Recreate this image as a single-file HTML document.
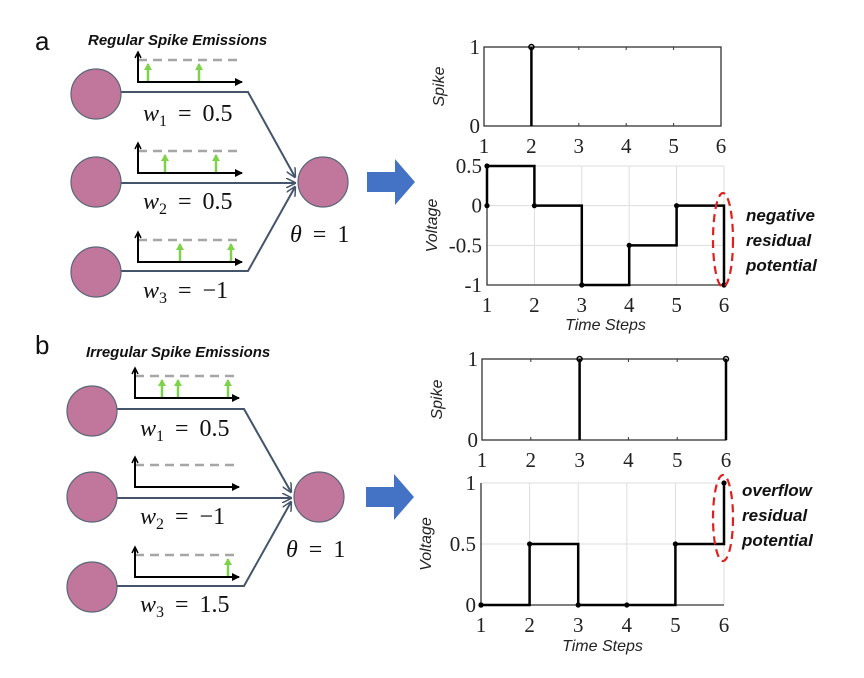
<!DOCTYPE html>
<html><head><meta charset="utf-8"><style>
body{margin:0;background:#fff}
svg{display:block}
.tk{font-family:"Liberation Serif",serif;font-size:21px;fill:#222}
.ax{font-family:"Liberation Sans",sans-serif;font-style:italic;font-size:16px;fill:#222}
.ann{font-family:"Liberation Sans",sans-serif;font-style:italic;font-weight:bold;font-size:17px;fill:#111}
.w{font-family:"Liberation Serif",serif;font-size:24px;fill:#111;word-spacing:5px}
</style></head><body>
<svg id="fig" width="864" height="678" viewBox="0 0 864 678">
<defs>
<marker id="ah" markerWidth="8" markerHeight="8" refX="7" refY="4" orient="auto" markerUnits="userSpaceOnUse"><path d="M0,0 L8,4 L0,8 z" fill="#000"/></marker>
<marker id="ga" markerWidth="8" markerHeight="8" refX="4" refY="1" orient="0" markerUnits="userSpaceOnUse"><path d="M0,7 L4,0 L8,7 z" fill="#7ed24a"/></marker>
<marker id="na" markerWidth="10" markerHeight="10" refX="9" refY="5" orient="auto" markerUnits="userSpaceOnUse"><path d="M0,0 L10,5 L0,10" fill="none" stroke="#44546a" stroke-width="1.5"/></marker>
</defs>
<g id="left"></g>
<g id="charts"></g>
</svg>
<script>
// ---- chart data ----
const xTicks = [1,2,3,4,5,6];
const spikeA = [0,1,0,0,0,0];
const spikeB = [0,0,1,0,0,1];
const voltTicksA = [0.5,0,-0.5,-1];
const voltTickLabelsA = ["0.5","0","-0.5","-1"];
const voltLevelsA = [0.5,0,-1,-0.5,0];
const voltStartA = 0, voltEndA = -1;
const voltTicksB = [1,0.5,0];
const voltTickLabelsB = ["1","0.5","0"];
const voltLevelsB = [0,0.5,0,0,0.5];
const voltStartB = 0, voltEndB = 1;

const NS="http://www.w3.org/2000/svg";
function mk(p,tag,attrs,txt){const e=document.createElementNS(NS,tag);for(const k in attrs)e.setAttribute(k,attrs[k]);if(txt!==undefined)e.textContent=txt;p.appendChild(e);return e;}
const charts=document.getElementById('charts');
const left=document.getElementById('left');

function spikeChart(g,x0,x1,y1,y0,data){
  const sx=t=>x0+(t-1)*(x1-x0)/5, sy=v=>y0+(y1-y0)*v;
  const box=mk(g,'rect',{x:x0,y:y1,width:x1-x0,height:y0-y1,fill:'none',stroke:'#333','stroke-width':1.3});
  
  
  xTicks.forEach(t=>{
    mk(g,'line',{x1:sx(t),x2:sx(t),y1:y0,y2:y0-3,stroke:'#333'});
    mk(g,'line',{x1:sx(t),x2:sx(t),y1:y1,y2:y1+3,stroke:'#333'});
    const l=mk(g,'text',{x:sx(t),y:y0+27,'text-anchor':'middle',class:'tk'},t);
    
    
  });
  [[0,'0'],[1,'1']].forEach(([v,s])=>{const l=mk(g,'text',{x:x0-4,y:sy(v)+7,'text-anchor':'end',class:'tk'},s);
    
    });
  data.forEach((v,i)=>{ if(v>0){
    const s=mk(g,'line',{x1:sx(xTicks[i]),x2:sx(xTicks[i]),y1:y0,y2:sy(v),stroke:'#000','stroke-width':2.5});
    
    
    mk(g,'circle',{cx:sx(xTicks[i]),cy:sy(v),r:2.5,fill:'none',stroke:'#000','stroke-width':1.5});
  }});
  const t=mk(g,'text',{class:'ax',transform:`translate(${x0-40},${(y0+y1)/2}) rotate(-90)`,'text-anchor':'middle'},'Spike');
  
  
}
function voltChart(g,x0,x1,yTop,yBot,vTop,vBot,ticks,labels,levels,vs,ve,tsY){
  const sx=t=>x0+(t-1)*(x1-x0)/5, sy=v=>yTop+(vTop-v)*(yBot-yTop)/(vTop-vBot);
  xTicks.forEach(t=>mk(g,'line',{x1:sx(t),x2:sx(t),y1:yTop,y2:yBot,stroke:'#ddd'}));
  ticks.forEach(v=>mk(g,'line',{x1:x0,x2:x1,y1:sy(v),y2:sy(v),stroke:'#ddd'}));
  mk(g,'path',{d:`M${x0},${yTop}V${yBot}H${x1}`,fill:'none',stroke:'#333','stroke-width':1.3});
  xTicks.forEach(t=>{const l=mk(g,'text',{x:sx(t),y:yBot+27,'text-anchor':'middle',class:'tk'},t);
    
    });
  ticks.forEach((v,i)=>{const l=mk(g,'text',{x:x0-5,y:sy(v)+7,'text-anchor':'end',class:'tk'},labels[i]);
    
    });
  let d=`M${sx(1)},${sy(vs)}`;
  levels.forEach((v,i)=>{d+=`V${sy(v)}H${sx(i+2)}`;});
  d+=`V${sy(ve)}`;
  const p=mk(g,'path',{d:d,fill:'none',stroke:'#000','stroke-width':2.5});
  
  
  const dots=[[1,vs]];levels.forEach((v,i)=>dots.push([i+1,v]));dots.push([6,ve]);
  dots.forEach(([t,v])=>{const c=mk(g,'circle',{cx:sx(t),cy:sy(v),r:2.6,fill:'#000'});
    
    });
  const yt=mk(g,'text',{class:'ax',transform:`translate(${x0-50},${(yTop+yBot)/2}) rotate(-90)`,'text-anchor':'middle'},'Voltage');
  
  
  const xt=mk(g,'text',{class:'ax',x:(x0+x1)/2,y:tsY,'text-anchor':'middle'},'Time Steps');
  
  
}
const ga=mk(charts,'g',{});


spikeChart(ga,484,721,47,126,spikeA);
voltChart(ga,487,724,166,285,0.5,-1,voltTicksA,voltTickLabelsA,voltLevelsA,voltStartA,voltEndA,330);
const gb=mk(charts,'g',{});


spikeChart(gb,482,726,359,440,spikeB);
voltChart(gb,481,724,483,605,1,0,voltTicksB,voltTickLabelsB,voltLevelsB,voltStartB,voltEndB,651);

// ellipses + annotations
[[723,240,47,'negative',221,746],[723,518,43,'overflow',496,742]].forEach(([cx,cy,ry,w,ty,x])=>{
  const e=mk(charts,'ellipse',{cx:cx,cy:cy,rx:10,ry:ry,fill:'none',stroke:'#e02020','stroke-width':2.2,'stroke-dasharray':'8 5'});
  
  
  [w,'residual','potential'].forEach((s,i)=>{const t=mk(charts,'text',{x:x,y:ty+i*25,class:'ann'},s);
    
    });
});

// ---- left diagrams ----
function net(g,o){
  const lab=mk(g,'text',{x:o.lx,y:o.ly,style:'font-family:"Liberation Sans",sans-serif;font-size:26px;fill:#111'},o.letter);
  
  
  const tt=mk(g,'text',{x:o.tx,y:o.ty,class:'ann',style:'font-size:15px'},o.title);
  
  
  const [ox,oy]=o.out;
  o.ins.forEach((c,i)=>{
    const [cx,cy]=c;
    let d;
    if(i===0)d=`M${cx+25},${cy-2}H${o.bx}L${ox-28},${oy-5}`;
    else if(i===1)d=`M${cx+25},${cy+1}H${ox-28}`;
    else d=`M${cx+25},${cy-1}H${o.bx}L${ox-28},${oy+5}`;
    const ln=mk(g,'path',{d:d,fill:'none',stroke:'#44546a','stroke-width':2,'marker-end':'url(#na)'});
    
    
    const n=mk(g,'circle',{cx:cx,cy:cy,r:25,fill:'#c0779b',stroke:'#5a6678','stroke-width':1.2});
    
    
    const m=o.mini[i];
    mk(g,'line',{x1:m.x,x2:m.x+105,y1:m.y-22,y2:m.y-22,stroke:'#a6a6a6','stroke-width':2.5,'stroke-dasharray':'9 6'});
    mk(g,'path',{d:`M${m.x},${m.y-28}V${m.y}H${m.x+104}`,fill:'none',stroke:'#000','stroke-width':2,'marker-end':'url(#ah)'});
    mk(g,'path',{d:`M${m.x-3},${m.y-24}L${m.x},${m.y-30}L${m.x+3},${m.y-24}`,fill:'none',stroke:'#000','stroke-width':1.5});
    m.s.forEach(sx=>{const a=mk(g,'line',{x1:sx,x2:sx,y1:m.y-1,y2:m.y-18,stroke:'#7ed24a','stroke-width':2.5,'marker-end':'url(#ga)'});
      
      });
    const w=mk(g,'text',{x:m.x+5,y:o.wy[i],class:'w'});
    
    
    w.innerHTML=`<tspan font-style="italic">w</tspan><tspan font-size="16" dy="5">${i+1}</tspan><tspan dy="-5"> = ${o.w[i]}</tspan>`;
  });
  const on=mk(g,'circle',{cx:ox,cy:oy,r:25,fill:'#c0779b',stroke:'#5a6678','stroke-width':1.2});
  
  
  const th=mk(g,'text',{x:ox-33,y:oy+60,class:'w'});
  
  
  th.innerHTML='<tspan font-style="italic">θ</tspan> = 1';
  const ar=mk(g,'path',{d:`M${o.ax},${oy-10}H${o.ax+28}V${oy-23}L${o.ax+48},${oy}L${o.ax+28},${oy+23}V${oy+10}H${o.ax}Z`,fill:'#4472c4'});
  
  
}
const la=mk(left,'g',{});


net(la,{letter:'a',lx:35,ly:50,title:'Regular Spike Emissions',tx:88,ty:45,ins:[[96,94],[96,182],[96,272]],out:[323,182],bx:248,
  mini:[{x:138,y:82,s:[148,199]},{x:138,y:173,s:[165,216]},{x:138,y:262,s:[180,231]}],wy:[121,209,298],w:['0.5','0.5','−1'],ax:367});
const lb=mk(left,'g',{});


net(lb,{letter:'b',lx:35,ly:354,title:'Irregular Spike Emissions',tx:86,ty:357,ins:[[92,411],[92,497],[92,587]],out:[319,497],bx:244,
  mini:[{x:135,y:398,s:[162,178,228]},{x:135,y:487,s:[]},{x:135,y:577,s:[228]}],wy:[436,524,612],w:['0.5','−1','1.5'],ax:366});
</script>
</body></html>
